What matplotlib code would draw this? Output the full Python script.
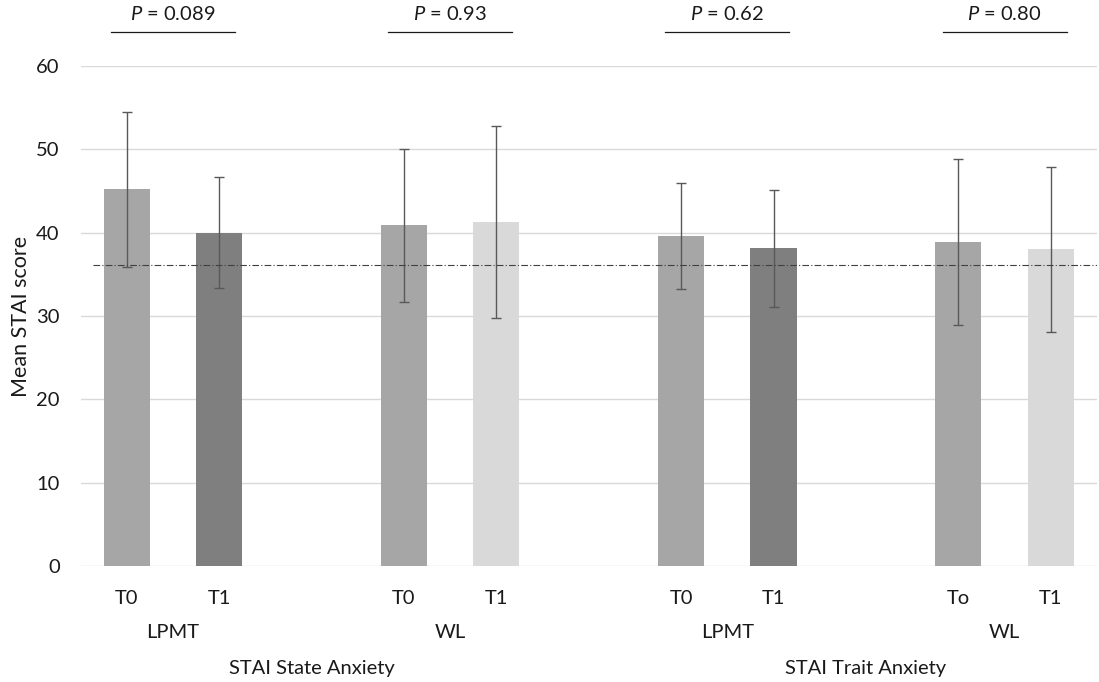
import numpy as np
import matplotlib
matplotlib.use("Agg")
import matplotlib.pyplot as plt

plt.rcParams['font.family'] = ['Lato', 'DejaVu Sans']
plt.rcParams['mathtext.fontset'] = 'custom'
plt.rcParams['mathtext.it'] = 'Lato:italic'
plt.rcParams['mathtext.rm'] = 'Lato'

# data
tick_labels = ['T0', 'T1', '', 'T0', 'T1', '', 'T0', 'T1', '', 'To', 'T1']
means = [45.2, 40.0, np.nan, 40.9, 41.3, np.nan, 39.6, 38.1, np.nan, 38.9, 38.0]
errs = [9.3, 6.65, np.nan, 9.2, 11.5, np.nan, 6.4, 7.0, np.nan, 10.0, 9.9]
groups = ['LPMT', 'WL', 'LPMT', 'WL']
scales = ['STAI State Anxiety', 'STAI Trait Anxiety']
p_values = ['0.089', '0.93', '0.62', '0.80']
cutoff = 36.1

colors = ['#a6a6a6', '#7f7f7f', 'white', '#a6a6a6', '#d9d9d9', 'white',
          '#a6a6a6', '#7f7f7f', 'white', '#a6a6a6', '#d9d9d9']
fs = 14.5
tc = '#1a1a1a'

fig = plt.figure(figsize=(10.99, 6.82), dpi=100)
ax = fig.add_axes([80.5 / 1099, 116 / 682, (1097 - 80.5) / 1099, 500 / 682])

x = np.arange(len(tick_labels))
ax.bar(x, means, width=0.5, color=colors, zorder=2)
ax.errorbar(x, means, yerr=errs, fmt='none', ecolor='#595959', elinewidth=1,
            capsize=3.5, capthick=1, zorder=3)

ax.set_xlim(-0.5, len(x) - 0.5)
ax.set_ylim(0, 60)
ax.set_yticks(range(0, 61, 10))
ax.grid(axis='y', color='#d9d9d9', lw=1, zorder=0)
for s in ax.spines.values():
    s.set_visible(False)
ax.tick_params(axis='both', length=0, labelsize=fs, colors=tc)
ax.tick_params(axis='y', pad=15)
ax.set_xticks(x)
ax.set_xticklabels(tick_labels)
ax.tick_params(axis='x', pad=17)
ax.set_ylabel('Mean STAI score', fontsize=15.5, color=tc, labelpad=4)

# reference line
ax.axhline(cutoff, xmin=12 / 1016, color='#404040', lw=0.8,
           ls=(0, (6, 2, 1, 2)), zorder=4)

# group and scale labels
pair_centers = [0.5, 3.5, 6.5, 9.5]
for xc, g in zip(pair_centers, groups):
    ax.text(xc, -7.95, g, ha='center', va='center', fontsize=fs,
            color=tc, clip_on=False)
for xc, s in zip([2, 8], scales):
    ax.text(xc, -12.3, s, ha='center', va='center', fontsize=fs,
            color=tc, clip_on=False)

# p-value annotations
for xc, p in zip(pair_centers, p_values):
    ax.plot([xc - 0.67, xc + 0.67], [64.1, 64.1], color=tc, lw=0.9,
            clip_on=False)
    ax.text(xc, 65.1, r'$\it{P}$ = ' + p, ha='center', va='bottom',
            fontsize=fs, color=tc, clip_on=False)

fig.savefig('out.png', dpi=100)
